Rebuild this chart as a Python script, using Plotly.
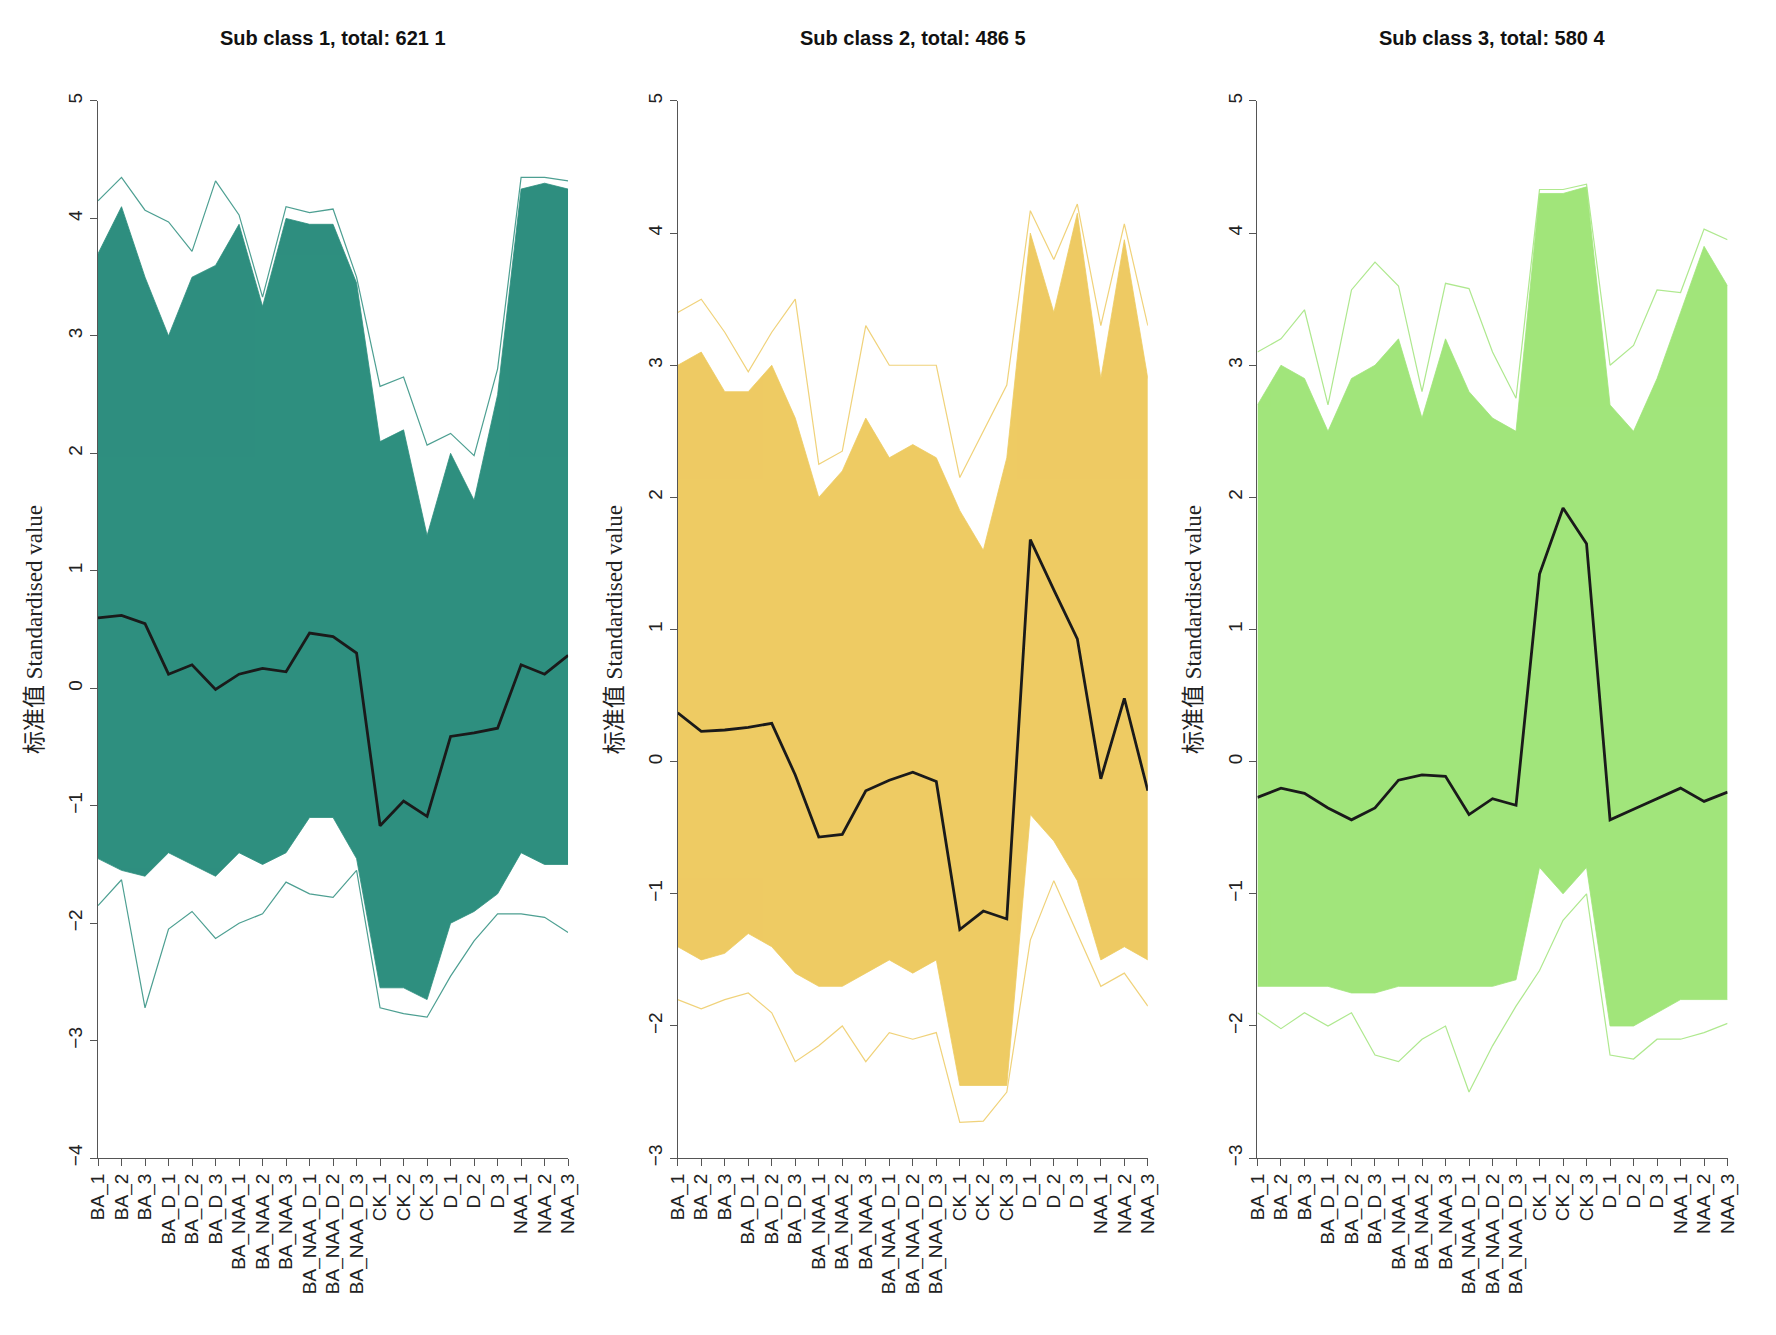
import plotly.graph_objects as go

categories = ["BA_1","BA_2","BA_3","BA_D_1","BA_D_2","BA_D_3","BA_NAA_1","BA_NAA_2","BA_NAA_3",
              "BA_NAA_D_1","BA_NAA_D_2","BA_NAA_D_3","CK_1","CK_2","CK_3","D_1","D_2","D_3","NAA_1","NAA_2","NAA_3"]
titles = ["Sub class 1, total: 621 1", "Sub class 2, total: 486 5", "Sub class 3, total: 580 4"]
colors = ["#2E8F7F", "#EECB63", "#A1E57B"]
y_ranges = [[-4, 5], [-3, 5], [-3, 5]]

mean1 = [0.6,0.62,0.55,0.12,0.2,-0.01,0.12,0.17,0.14,0.47,0.44,0.3,-1.17,-0.96,-1.09,-0.41,-0.38,-0.34,0.2,0.12,0.28]
max1 = [4.15,4.35,4.07,3.97,3.72,4.32,4.03,3.33,4.1,4.05,4.08,3.5,2.57,2.65,2.07,2.17,1.98,2.72,4.35,4.35,4.32]
upper1 = [3.7,4.1,3.5,3.0,3.5,3.6,3.95,3.25,4.0,3.95,3.95,3.45,2.1,2.2,1.3,2.0,1.6,2.5,4.25,4.3,4.25]
lower1 = [-1.45,-1.55,-1.6,-1.4,-1.5,-1.6,-1.4,-1.5,-1.4,-1.1,-1.1,-1.45,-2.55,-2.55,-2.65,-2.0,-1.9,-1.75,-1.4,-1.5,-1.5]
min1 = [-1.85,-1.63,-2.72,-2.05,-1.9,-2.13,-2.0,-1.92,-1.65,-1.75,-1.78,-1.55,-2.72,-2.77,-2.8,-2.45,-2.15,-1.92,-1.92,-1.95,-2.08]

mean2 = [0.37,0.23,0.24,0.26,0.29,-0.1,-0.57,-0.55,-0.22,-0.14,-0.08,-0.15,-1.27,-1.13,-1.19,1.68,1.3,0.93,-0.13,0.48,-0.22]
max2 = [3.4,3.5,3.25,2.95,3.25,3.5,2.25,2.35,3.3,3.0,3.0,3.0,2.15,2.5,2.85,4.17,3.8,4.22,3.3,4.07,3.3]
upper2 = [3.0,3.1,2.8,2.8,3.0,2.6,2.0,2.2,2.6,2.3,2.4,2.3,1.9,1.6,2.3,4.0,3.4,4.15,2.9,3.95,2.9]
lower2 = [-1.4,-1.5,-1.45,-1.3,-1.4,-1.6,-1.7,-1.7,-1.6,-1.5,-1.6,-1.5,-2.45,-2.45,-2.45,-0.4,-0.6,-0.9,-1.5,-1.4,-1.5]
min2 = [-1.8,-1.87,-1.8,-1.75,-1.9,-2.27,-2.15,-2.0,-2.27,-2.05,-2.1,-2.05,-2.73,-2.72,-2.5,-1.35,-0.9,-1.3,-1.7,-1.6,-1.85]

mean3 = [-0.27,-0.2,-0.24,-0.35,-0.44,-0.35,-0.14,-0.1,-0.11,-0.4,-0.28,-0.33,1.42,1.92,1.65,-0.44,-0.36,-0.28,-0.2,-0.3,-0.23]
max3 = [3.1,3.2,3.42,2.7,3.57,3.78,3.6,2.8,3.62,3.58,3.1,2.75,4.33,4.33,4.37,3.0,3.15,3.57,3.55,4.03,3.95]
upper3 = [2.7,3.0,2.9,2.5,2.9,3.0,3.2,2.6,3.2,2.8,2.6,2.5,4.3,4.3,4.35,2.7,2.5,2.9,3.4,3.9,3.6]
lower3 = [-1.7,-1.7,-1.7,-1.7,-1.75,-1.75,-1.7,-1.7,-1.7,-1.7,-1.7,-1.65,-0.8,-1.0,-0.8,-2.0,-2.0,-1.9,-1.8,-1.8,-1.8]
min3 = [-1.9,-2.02,-1.9,-2.0,-1.9,-2.22,-2.27,-2.1,-2.0,-2.5,-2.15,-1.85,-1.58,-1.2,-1.0,-2.22,-2.25,-2.1,-2.1,-2.05,-1.98]

panels = [(mean1, max1, upper1, lower1, min1), (mean2, max2, upper2, lower2, min2), (mean3, max3, upper3, lower3, min3)]

W, H = 1776, 1335
x_doms = [(80/W, 556/W), (667/W, 1143/W), (1254/W, 1730/W)]
y_dom = (1 - 1156/H, 1 - 86/H)

fig = go.Figure()
ann = []
for i, (mean, mx, up, lo, mn) in enumerate(panels):
    xa = "x" if i == 0 else f"x{i+1}"
    ya = "y" if i == 0 else f"y{i+1}"
    c = colors[i]
    fig.add_trace(go.Scatter(x=categories, y=lo, mode="lines", line=dict(color=c, width=0.8), xaxis=xa, yaxis=ya, showlegend=False))
    fig.add_trace(go.Scatter(x=categories, y=up, mode="lines", line=dict(color=c, width=0.8), fill="tonexty", fillcolor=c, xaxis=xa, yaxis=ya, showlegend=False))
    fig.add_trace(go.Scatter(x=categories, y=mx, mode="lines", line=dict(color=c, width=1.2), opacity=0.85, xaxis=xa, yaxis=ya, showlegend=False))
    fig.add_trace(go.Scatter(x=categories, y=mn, mode="lines", line=dict(color=c, width=1.2), opacity=0.85, xaxis=xa, yaxis=ya, showlegend=False))
    fig.add_trace(go.Scatter(x=categories, y=mean, mode="lines", line=dict(color="#1a1a1a", width=2.8), xaxis=xa, yaxis=ya, showlegend=False))
    key = "" if i == 0 else str(i+1)
    fig.update_layout(**{
        f"xaxis{key}": dict(domain=x_doms[i], anchor=ya, range=[0, 20], tickangle=-90, showline=True, linecolor="#555",
                            ticks="outside", ticklen=7, tickcolor="#555", showgrid=False, zeroline=False,
                            tickfont=dict(family="Liberation Sans, Arial", size=19, color="#222")),
        f"yaxis{key}": dict(domain=y_dom, anchor=xa, range=y_ranges[i], dtick=1, tickangle=-90, showline=True, linecolor="#555",
                            ticks="outside", ticklen=7, tickcolor="#555", showgrid=False, zeroline=False,
                            tickfont=dict(family="Liberation Sans, Arial", size=19, color="#222"),
                            title=dict(text="标准值 Standardised value", standoff=16,
                                       font=dict(family="Liberation Serif, Noto Sans CJK SC", size=23, color="#222"))),
    })
    ann.append(dict(text=f"<b>{titles[i]}</b>", x=(x_doms[i][0]+x_doms[i][1])/2, y=1-22/H, xref="paper", yref="paper",
                    xanchor="center", yanchor="middle", showarrow=False,
                    font=dict(family="Liberation Sans, Arial", size=20, color="#111")))

fig.update_layout(width=W, height=H, margin=dict(l=0, r=0, t=0, b=0), plot_bgcolor="white", paper_bgcolor="white",
                  annotations=ann)
fig.write_html("out.html")
